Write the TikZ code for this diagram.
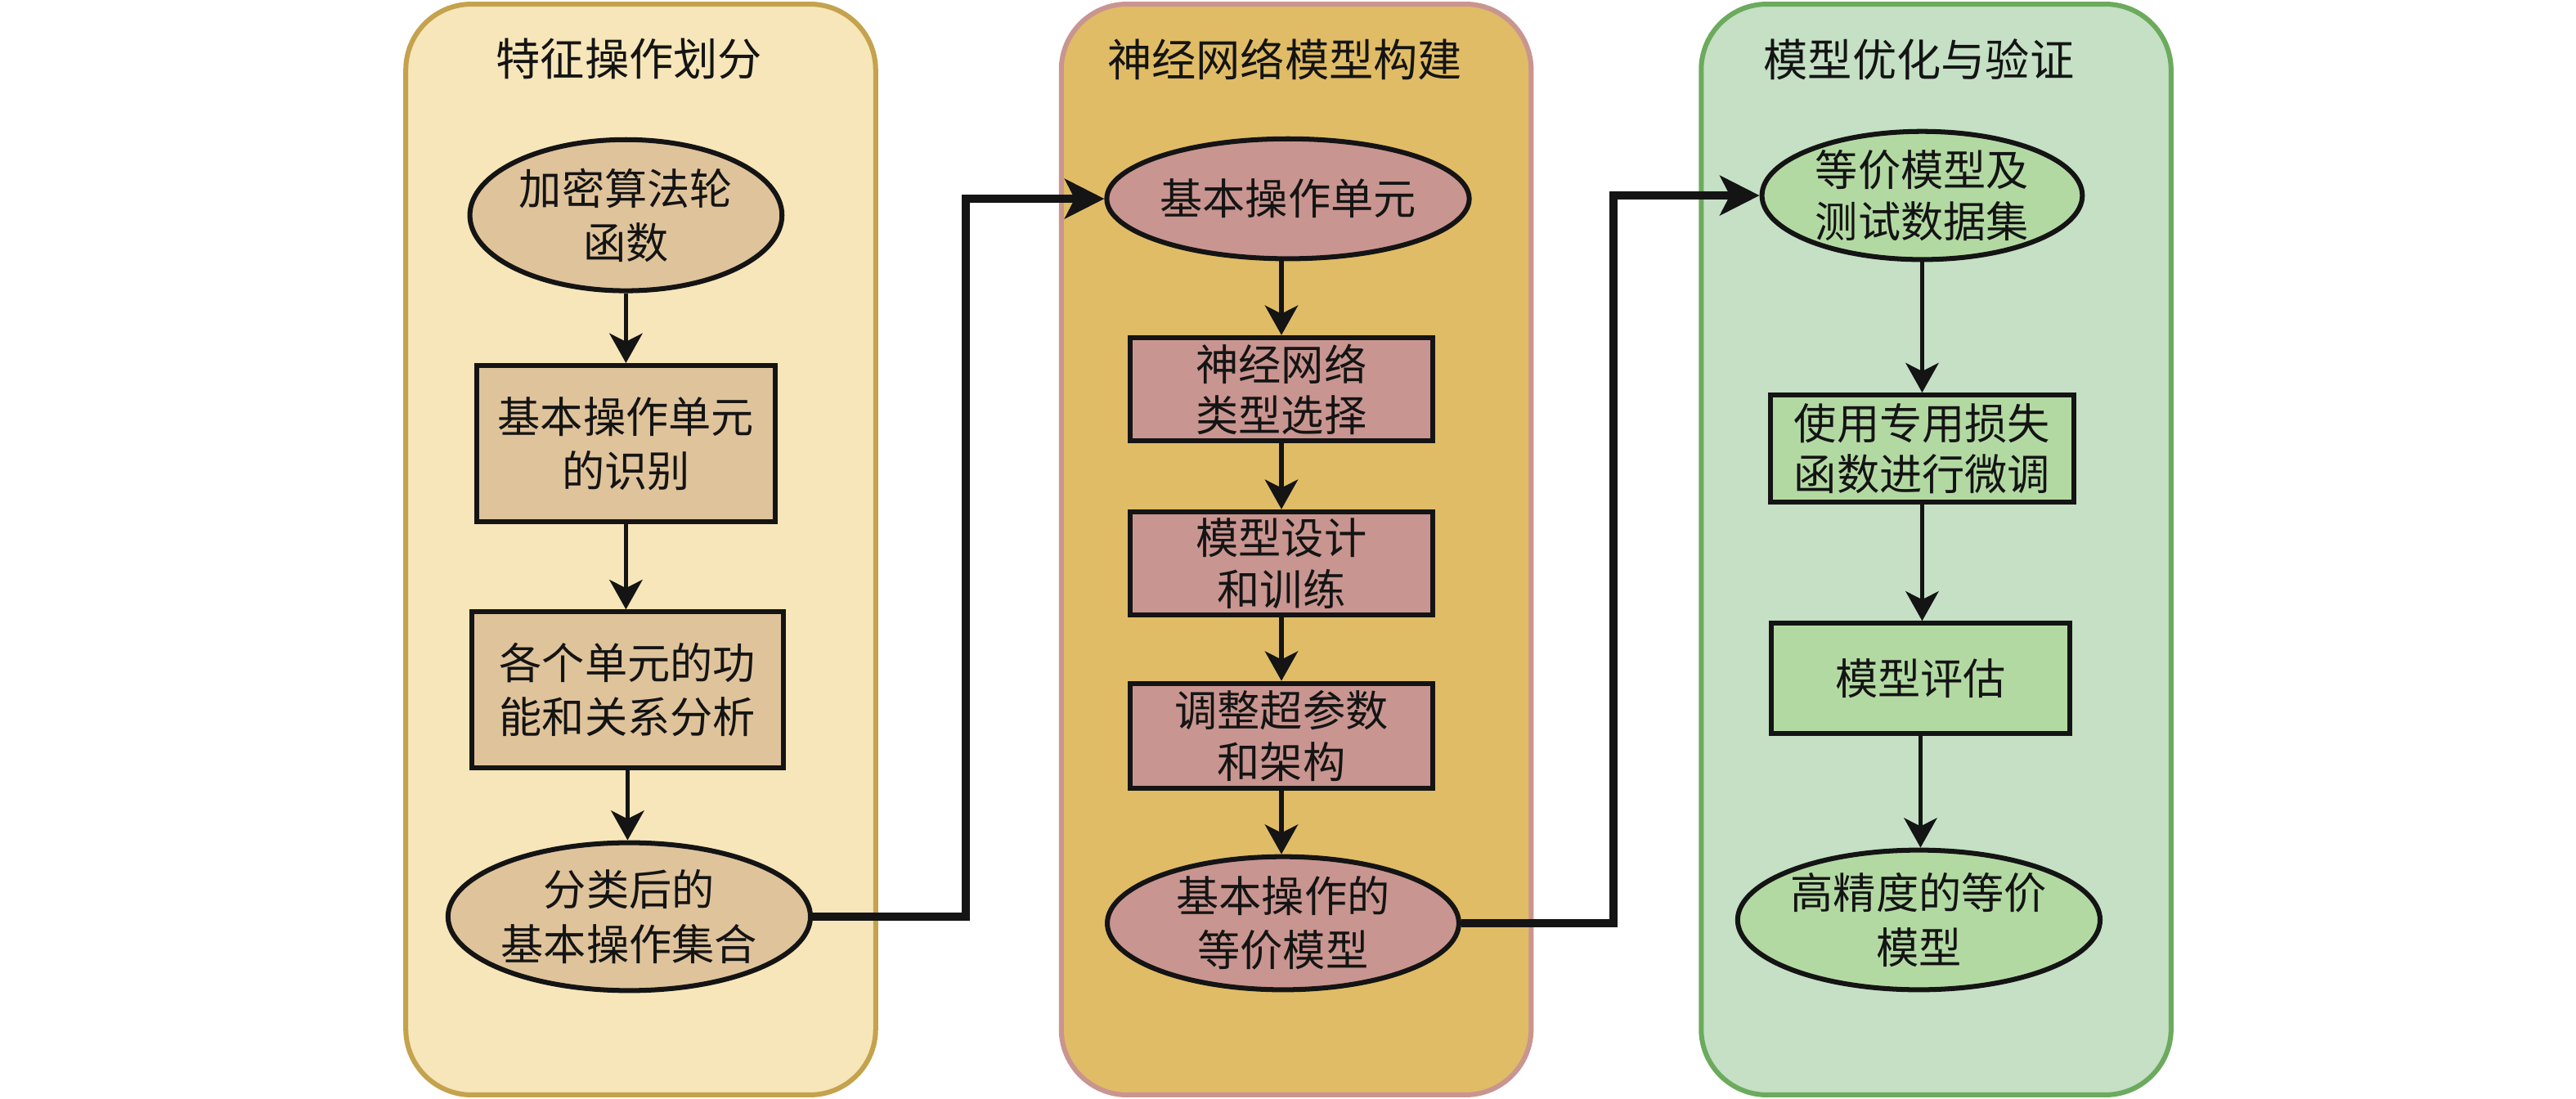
\documentclass[tikz,border=0pt]{standalone}
\usepackage{fontspec}
\setmainfont{Noto Sans CJK SC}
\usetikzlibrary{shapes.geometric,arrows.meta}
\definecolor{pAfill}{HTML}{F6E6B9}
\definecolor{pAdraw}{HTML}{C4A24E}
\definecolor{nA}{HTML}{DFC39B}
\definecolor{pBfill}{HTML}{E0BC66}
\definecolor{pBdraw}{HTML}{C99590}
\definecolor{nB}{HTML}{C99590}
\definecolor{pCfill}{HTML}{C5E0C5}
\definecolor{pCdraw}{HTML}{6CAA5E}
\definecolor{nC}{HTML}{B3D9A3}
\definecolor{ink}{HTML}{141414}
\begin{document}
\begin{tikzpicture}[x=1pt,y=-1pt,
  panel/.style={rectangle, line width=3pt, rounded corners=40pt, minimum width=286pt, minimum height=664pt, inner sep=0pt},
  ttl/.style={font=\fontsize{27}{32}\selectfont, text=ink},
  ell/.style={ellipse, draw=ink, line width=3pt, inner sep=0pt, align=center, text=ink, font=\fontsize{26}{33}\selectfont},
  boxnode/.style={rectangle, draw=ink, line width=3pt, inner sep=0pt, align=center, text=ink, font=\fontsize{26}{33}\selectfont},
  arr/.style={-{Stealth[length=18pt,width=20pt,inset=5pt]}, line width=2.8pt, draw=ink},
  conn/.style={-{Stealth[length=24pt,width=24pt,inset=6pt]}, line width=4.8pt, draw=ink}
]
\useasboundingbox (0,0) rectangle (1568,669);

% panels
\node (pA) [panel, fill=pAfill, draw=pAdraw] at (390,334.5) {};
\node (pB) [panel, fill=pBfill, draw=pBdraw] at (789,334.5) {};
\node (pC) [panel, fill=pCfill, draw=pCdraw] at (1178.5,334.5) {};

% titles
\node (tA) [ttl] at (383,36) {特征操作划分};
\node (tB) [ttl] at (782,36) {神经网络模型构建};
\node (tC) [ttl] at (1168,36) {模型优化与验证};

% panel A
\node (e1) [ell, fill=nA, minimum width=190pt, minimum height=92pt] at (381,131) {加密算法轮\\函数};
\node (r1) [boxnode, fill=nA, minimum width=182pt, minimum height=95pt] at (381,270) {基本操作单元\\的识别};
\node (r2) [boxnode, fill=nA, minimum width=190pt, minimum height=95pt] at (382,420) {各个单元的功\\能和关系分析};
\node (e2) [ell, fill=nA, minimum width=215pt, minimum height=90pt] at (383,558) {分类后的\\基本操作集合};

% panel B
\node (e3) [ell, fill=nB, minimum width=197pt, minimum height=73pt] at (784,121) {基本操作单元};
\node (r3) [boxnode, fill=nB, minimum width=184pt, minimum height=63pt, font=\fontsize{26}{31}\selectfont] at (780,237) {神经网络\\类型选择};
\node (r4) [boxnode, fill=nB, minimum width=184pt, minimum height=63pt, font=\fontsize{26}{31}\selectfont] at (780,343) {模型设计\\和训练};
\node (r5) [boxnode, fill=nB, minimum width=184pt, minimum height=64pt, font=\fontsize{26}{31}\selectfont] at (780,448) {调整超参数\\和架构};
\node (e4) [ell, fill=nB, minimum width=214pt, minimum height=81pt] at (781,562) {基本操作的\\等价模型};

% panel C
\node (e5) [ell, fill=nC, minimum width=195pt, minimum height=78pt, font=\fontsize{26}{31}\selectfont] at (1170,119) {等价模型及\\测试数据集};
\node (r6) [boxnode, fill=nC, minimum width=185pt, minimum height=65pt, font=\fontsize{26}{31}\selectfont] at (1170,273) {使用专用损失\\函数进行微调};
\node (r7) [boxnode, fill=nC, minimum width=182pt, minimum height=67pt] at (1169,413) {模型评估};
\node (e6) [ell, fill=nC, minimum width=213pt, minimum height=85pt] at (1168,560) {高精度的等价\\模型};

% vertical arrows
\draw[arr] (e1.south) -- (e1.south |- r1.north);
\draw[arr] (r1.south) -- (r1.south |- r2.north);
\draw[arr] (r2.south) -- (r2.south |- e2.north);
\draw[arr] (e3.south -| r3.north) -- (r3.north);
\draw[arr] (r3.south) -- (r3.south |- r4.north);
\draw[arr] (r4.south) -- (r4.south |- r5.north);
\draw[arr] (r5.south) -- (r5.south |- e4.north);
\draw[arr] (e5.south) -- (e5.south |- r6.north);
\draw[arr] (r6.south) -- (r6.south |- r7.north);
\draw[arr] (r7.south) -- (r7.south |- e6.north);

% cross-panel connectors
\coordinate (j1) at (588,0);
\coordinate (j2) at (982,0);
\draw[conn] (e2.east) -- (e2.east -| j1) |- (e3.west);
\draw[conn] (e4.east) -- (e4.east -| j2) |- (e5.west);
\end{tikzpicture}
\end{document}
